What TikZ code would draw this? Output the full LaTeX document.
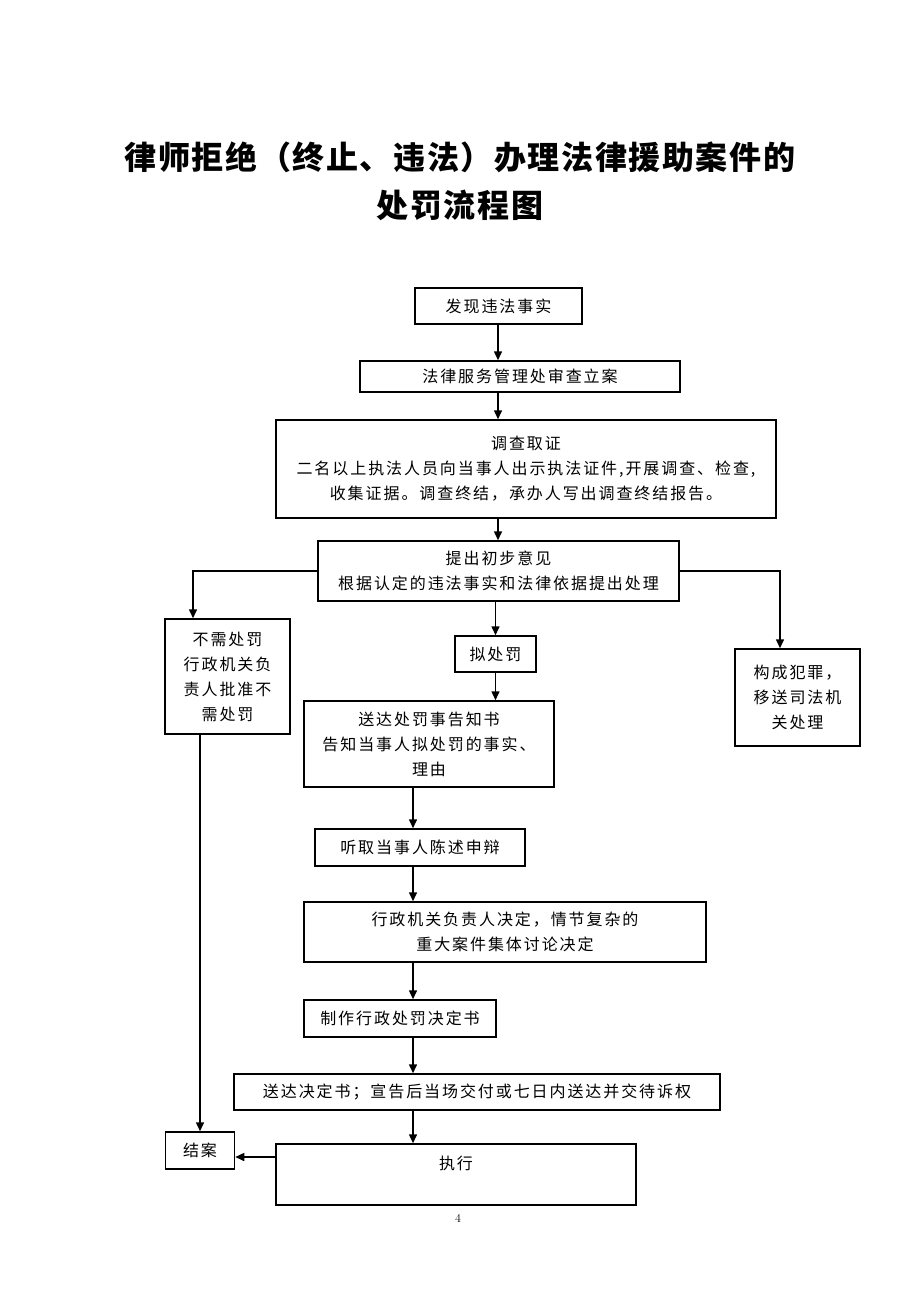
\documentclass[tikz,border=0pt]{standalone}
\usepackage{fontspec}
\newfontfamily\bodyfont[LetterSpace=12]{Noto Sans CJK SC}
\newfontfamily\titlefont[LetterSpace=5]{Noto Sans CJK SC}
\usetikzlibrary{arrows.meta}
\tikzset{
  box/.style={draw,line width=1.5pt,inner sep=0pt,align=center,font=\bodyfont\fontsize{16}{25}\selectfont},
  arr/.style={line width=1.5pt,-{Triangle[length=9pt,width=8pt]}}
}
\begin{document}
\begin{tikzpicture}[x=1pt,y=-1pt]
\useasboundingbox (0,0) rectangle (920,1302);
\node[font=\titlefont\bfseries\fontsize{32}{48}\selectfont,align=center] (title) at (460,181) {律师拒绝（终止、违法）办理法律援助案件的\\处罚流程图};
\node[box,minimum width=167pt,minimum height=36pt] (find) at (498.5,306) {发现违法事实};
\node[box,minimum width=320pt,minimum height=31pt] (review) at (520,376.5) {法律服务管理处审查立案};
\node[box,minimum width=500pt,minimum height=98pt] (invest) at (526,469) {调查取证\\二名以上执法人员向当事人出示执法证件,开展调查、检查,\\收集证据。调查终结，承办人写出调查终结报告。};
\node[box,minimum width=361pt,minimum height=60pt] (opinion) at (498.5,571) {提出初步意见\\根据认定的违法事实和法律依据提出处理};
\node[box,minimum width=125pt,minimum height=115pt] (noneed) at (227.5,676.5) {不需处罚\\行政机关负\\责人批准不\\需处罚};
\node[box,minimum width=81pt,minimum height=36pt] (propose) at (495.5,654) {拟处罚};
\node[box,minimum width=125pt,minimum height=97pt] (crime) at (797.5,697.5) {构成犯罪，\\移送司法机\\关处理};
\node[box,minimum width=250pt,minimum height=86pt] (notify) at (429,744) {送达处罚事告知书\\告知当事人拟处罚的事实、\\理由};
\node[box,minimum width=210pt,minimum height=37pt] (hear) at (420,847.5) {听取当事人陈述申辩};
\node[box,minimum width=402pt,minimum height=60pt] (decide) at (505,932) {行政机关负责人决定，情节复杂的\\重大案件集体讨论决定};
\node[box,minimum width=192pt,minimum height=37pt] (make) at (400,1018.5) {制作行政处罚决定书};
\node[box,minimum width=486pt,minimum height=36pt] (deliver) at (477,1092) {送达决定书；宣告后当场交付或七日内送达并交待诉权};
\node[box,minimum width=69pt,minimum height=37pt] (close) at (200,1150.5) {结案};
\node[box,minimum width=360pt,minimum height=61pt] (exec) at (456,1174.5) {执行\\[-10pt]\strut};
\node[font=\fontsize{12}{14}\selectfont] (pagenum) at (458,1218) {4};
\coordinate (axis) at (498,0);
\coordinate (axisb) at (413,0);
\foreach \a/\b in {find/review,review/invest,invest/opinion}
  \draw[arr] (axis |- \a.south) -- (axis |- \b.north);
\draw[arr] (propose.north |- opinion.south) -- (propose.north);
\draw[arr] (propose.south) -- (propose.south |- notify.north);
\foreach \a/\b in {notify/hear,hear/decide,decide/make,make/deliver,deliver/exec}
  \draw[arr] (axisb |- \a.south) -- (axisb |- \b.north);
\draw[arr] (opinion.west) -| ([xshift=-34.5pt]noneed.north);
\draw[arr] (opinion.east) -| ([xshift=-17.5pt]crime.north);
\draw[arr] (noneed.south -| close.north) -- (close.north);
\draw[arr] (exec.west |- 0,1157) -- (close.east |- 0,1157);
\end{tikzpicture}
\end{document}
